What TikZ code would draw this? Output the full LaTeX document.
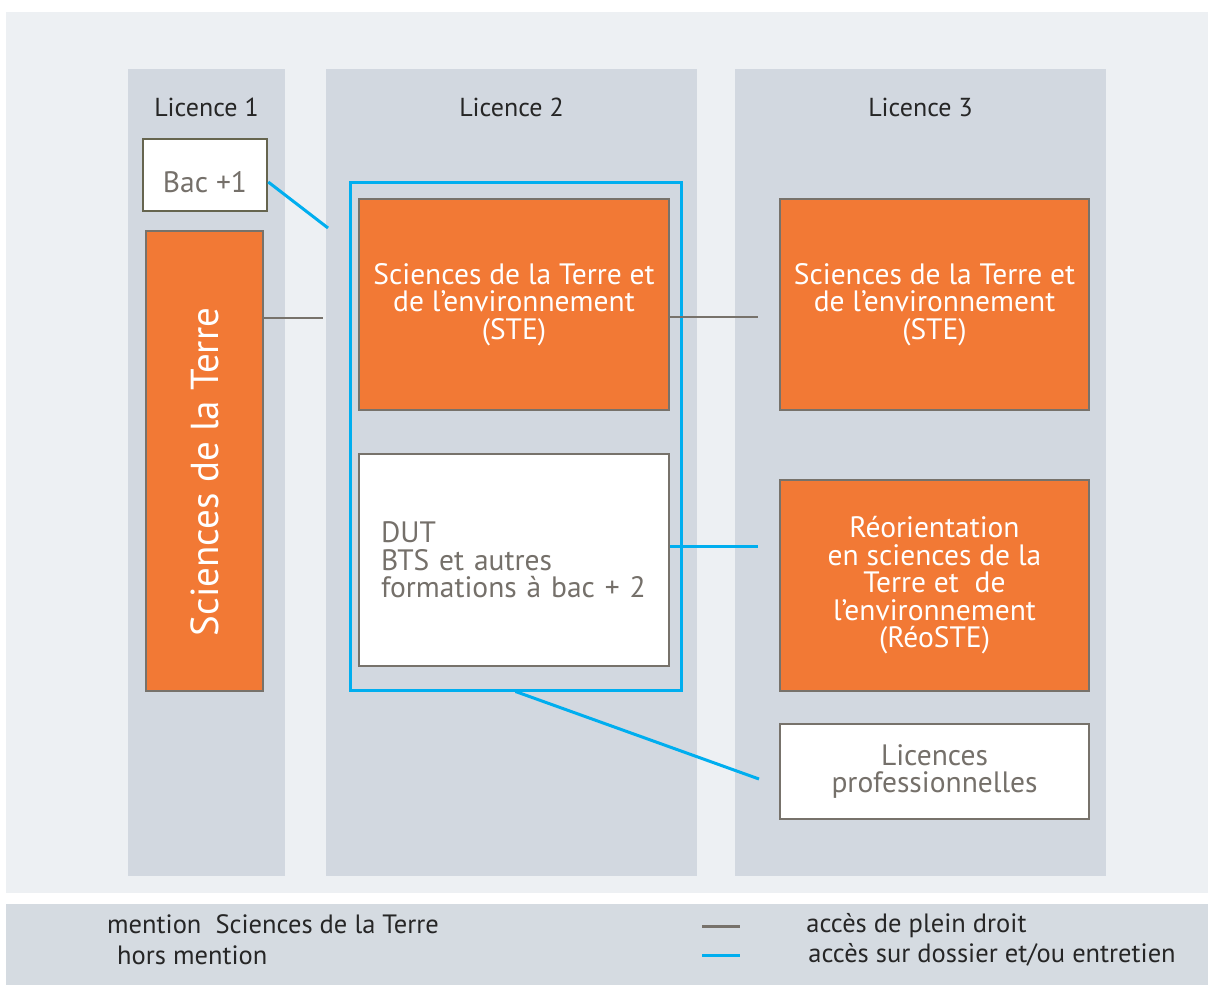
\documentclass[tikz,border=0pt]{standalone}
\usepackage{fontspec}
\setmainfont{PT Sans}
\usetikzlibrary{positioning}
\definecolor{pageColor}{RGB}{237,240,243}
\definecolor{columnColor}{RGB}{210,216,224}
\definecolor{legendColor}{RGB}{213,219,225}
\definecolor{mentionColor}{RGB}{242,121,53}
\definecolor{frameColor}{RGB}{119,114,107}
\definecolor{bacColor}{RGB}{102,101,79}
\definecolor{dossierColor}{RGB}{0,174,239}
\definecolor{greyText}{RGB}{117,112,106}
\tikzstyle{plan} = [x = 1pt, y = -1pt]
\tikzstyle{columnStyle} = [fill=columnColor]
\tikzstyle{headText} = [font=\fontsize{26}{26}\selectfont, text=black!85]
\tikzstyle{mentionBox} = [draw=frameColor, fill=mentionColor, line width=2.5pt, text=white, align=center, inner sep=0pt, font=\fontsize{29.5}{27.5}\selectfont]
\tikzstyle{horsBox} = [draw=frameColor, fill=white, line width=2.5pt, text=greyText, align=center, inner sep=0pt, font=\fontsize{29.5}{27.5}\selectfont]
\tikzstyle{pleinDroit} = [draw=frameColor, line width=2.8pt]
\tikzstyle{surDossier} = [draw=dossierColor, line width=3pt]
\tikzstyle{legendText} = [font=\fontsize{26.5}{26.5}\selectfont, text=black!85, inner sep=0pt]
\newcommand{\column}[3]{\fill [columnStyle] (#1, 69) rectangle (#2, 876) node [headText] at ({(#1 + #2) / 2}, 107) {#3};}
\newcommand{\lowered}[2]{\raisebox{-#1}[\height][\depth]{#2}}

\begin{document}
\begin{tikzpicture}[plan]
  \useasboundingbox [fill=white] (0,0) rectangle (1208,985);
  \fill [pageColor] (6,12) rectangle (1208,893);
  \fill [legendColor] (6,904) rectangle (1208,985);

  % colonnes
  \column{128}{285}{Licence 1}
  \column{326}{697}{Licence 2}
  \column{735}{1106}{Licence 3}

  % licence 1
  \node [horsBox, draw=bacColor, minimum width=124, minimum height=72] (bac) at (205,175) {\lowered{7pt}{Bac +1}};
  \node [mentionBox, minimum width=117, minimum height=460] (sdlt) at (204.5,461)
    {\rotatebox{90}{\fontsize{39}{39}\selectfont\hspace*{-22pt}Sciences de la Terre}};

  % licence 2
  \node [surDossier, minimum width=331, minimum height=508] (frame2) at (515.5,436) {};
  \node [mentionBox, minimum width=310, minimum height=211] (ste2) at (514,304.5)
    {Sciences de la Terre et\\de l’environnement\\(STE)};
  \node [horsBox, minimum width=310, minimum height=212, text width=266, align=left] (dut) at (514,560)
    {DUT\\BTS et autres\\formations à bac + 2};

  % licence 3
  \node [mentionBox, minimum width=309, minimum height=211] (ste3) at (934.5,304.5)
    {Sciences de la Terre et\\de l’environnement\\(STE)};
  \node [mentionBox, minimum width=309, minimum height=211] (reo) at (934.5,585.5)
    {Réorientation\\en sciences de la\\Terre et\ \ de\\l’environnement\\(RéoSTE)};
  \node [horsBox, minimum width=309, minimum height=95] (pro) at (934.5,771.5)
    {Licences\\professionnelles};

  % liaisons
  \coordinate (pleinEnd1) at (323,318);
  \coordinate (pleinEnd2) at (758,317);
  \coordinate (dossierEnd1) at (328,228);
  \coordinate (dossierEnd2) at (758,546);
  \coordinate (dossierEnd3) at (759,779);
  \draw [pleinDroit] (sdlt.east |- pleinEnd1) -- (pleinEnd1);
  \draw [surDossier] ([yshift=-7pt]bac.east) -- (dossierEnd1);
  \draw [pleinDroit] (ste2.east |- pleinEnd2) -- (pleinEnd2);
  \draw [surDossier] (dut.east |- dossierEnd2) -- (dossierEnd2);
  \draw [surDossier] (frame2.south) -- (dossierEnd3);

  % legende
  \node [legendText, anchor=west] (mention) at (107,924) {mention\ \ Sciences de la Terre};
  \node [legendText, anchor=west] (hors) at (117,955) {hors mention};
  \node [fill=frameColor, inner sep=0pt, minimum width=38, minimum height=3] (legendPlein) at (721,926) {};
  \node [fill=dossierColor, inner sep=0pt, minimum width=38, minimum height=3] (legendDossier) at (721,955) {};
  \node [legendText, right=66pt of legendPlein] (pleinText) {accès de plein droit};
  \node [legendText, right=68pt of legendDossier] (dossierText) {accès sur dossier et/ou entretien};
\end{tikzpicture}
\end{document}
